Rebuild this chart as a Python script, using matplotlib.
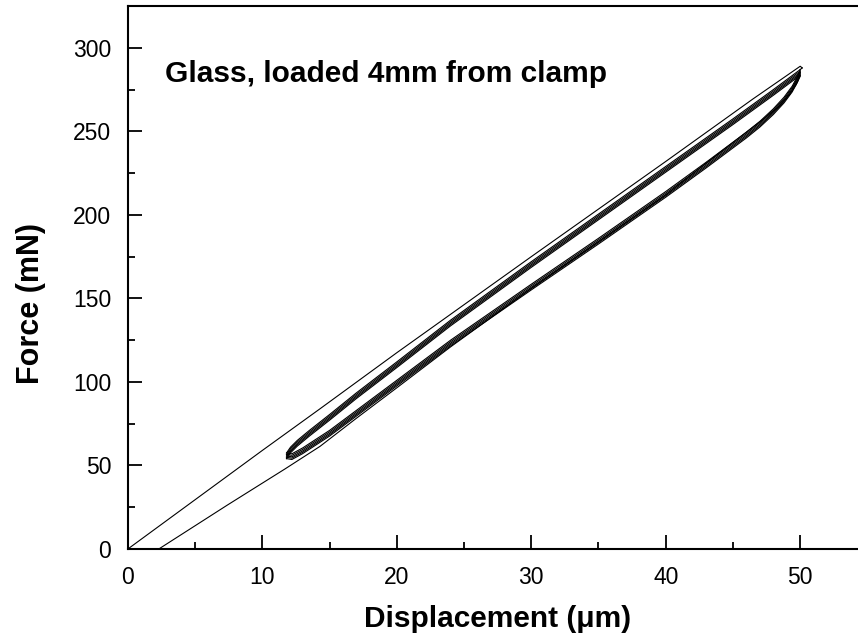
import numpy as np
import matplotlib.pyplot as plt
from matplotlib.ticker import MultipleLocator

plt.rcParams['font.family'] = ['Liberation Sans', 'DejaVu Sans']

# initial loading line (displacement in um, force in mN)
load_x = [0, 10, 14.3, 20, 24, 30, 35, 40, 46.5, 50]
load_f = [0, 59, 84, 117.5, 140.5, 175, 203.5, 232, 269.5, 289]

# cyclic loop, reloading branch (upper) and unloading branch (lower)
up_x = [11.8, 12.1, 12.6, 13.5, 15, 17, 20, 24, 30, 35, 40, 45, 48, 50]
up_f = [57.5, 61, 65, 71, 80.5, 93.5, 112, 137, 172, 200.5, 229, 257.5, 275, 287]
down_x = [50, 49.8, 49.4, 48.8, 48, 47, 46, 43, 40, 35, 30, 24, 20, 15, 13, 12.2, 11.8]
down_f = [287, 283, 277, 270.5, 263.5, 256, 249.5, 231.5, 214, 186, 158.5, 125, 101, 71, 60.5, 57, 57.5]

# vertical drift of each cycle
cycle_shift = [0, -0.9, -1.8, -2.6, -3.4]

# final unloading to zero force
unload_x = [50, 49.7, 49.2, 48.4, 47.2, 45.5, 43, 40, 35, 30, 24, 20, 17, 14.3, 11.7, 7.4, 2.3]
unload_f = [283, 278, 272, 265, 257, 246.5, 231, 212, 184, 156, 121, 96.5, 78.3, 61.5, 48, 26.3, 0]

fig = plt.figure(figsize=(8.58, 6.44), dpi=100)
ax = fig.add_axes([0.149, 0.1475, 0.862, 0.843])

kw = dict(color='black', lw=0.8)
ax.plot(load_x + [50.15], load_f + [288], **kw)
ax.plot([50.15, 50], [288, down_f[0]], **kw)
for s in cycle_shift:
    ax.plot(down_x, np.array(down_f) + s, **kw)
    ax.plot(up_x, np.array(up_f) + s, **kw)
ax.plot(unload_x, unload_f, **kw)

ax.set_xlim(0, 55)
ax.set_ylim(0, 325)
ax.xaxis.set_major_locator(MultipleLocator(10))
ax.xaxis.set_minor_locator(MultipleLocator(5))
ax.yaxis.set_major_locator(MultipleLocator(50))
ax.yaxis.set_minor_locator(MultipleLocator(25))
ax.tick_params(which='major', direction='in', length=10, width=1.3, labelsize=16.5, pad=12)
ax.tick_params(which='minor', direction='in', length=5, width=1.3)
for sp in ax.spines.values():
    sp.set_linewidth(1.5)

ax.set_xlabel('Displacement (\u03bcm)', fontsize=21.5, fontweight='bold', labelpad=12)
ax.set_ylabel('Force (mN)', fontsize=22, fontweight='bold')
ax.yaxis.set_label_coords(-0.110, 0.453)
ax.text(0.05, 0.875, 'Glass, loaded 4mm from clamp', transform=ax.transAxes,
        fontsize=21.5, fontweight='bold', va='center')

fig.savefig('out.png', dpi=100)
